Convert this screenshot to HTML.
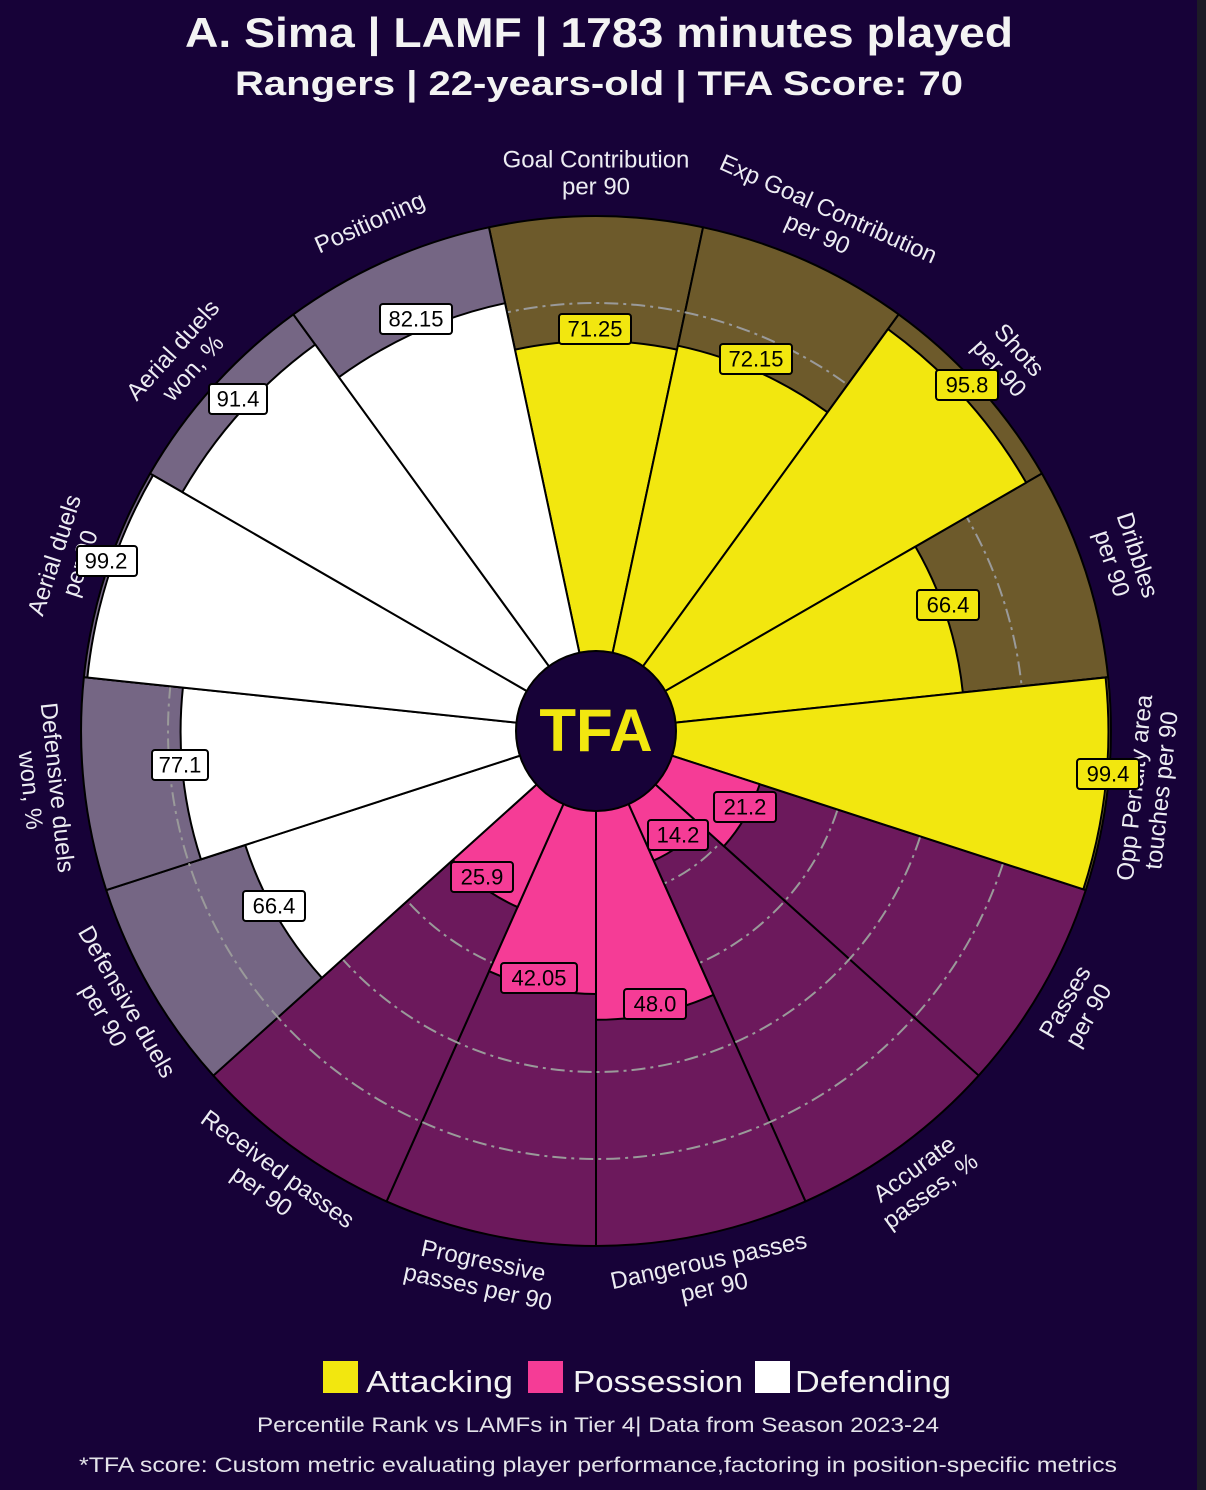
<!DOCTYPE html>
<html><head><meta charset="utf-8"><style>
html,body{margin:0;padding:0;background:#170238;}
svg{display:block;}
text{font-family:"Liberation Sans",sans-serif;}
</style></head><body>
<svg width="1206" height="1490" viewBox="0 0 1206 1490" xmlns="http://www.w3.org/2000/svg">
<rect width="1206" height="1490" fill="#170238"/>
<rect x="1197" y="0" width="9" height="1490" fill="#1d1b26"/>
<text x="599" y="47" text-anchor="middle" font-size="42" font-weight="bold" fill="#f3f3f3" textLength="828" lengthAdjust="spacingAndGlyphs">A. Sima | LAMF | 1783 minutes played</text>
<text x="599" y="95" text-anchor="middle" font-size="34" font-weight="bold" fill="#f3f3f3" textLength="728" lengthAdjust="spacingAndGlyphs">Rangers | 22-years-old | TFA Score: 70</text>

<g transform="translate(596,731)" stroke="#000" stroke-width="2" stroke-linejoin="round">
<g>
<path d="M0,0 L-107.07,-503.7 A515,515 0 0 1 107.07,-503.7 Z" fill="#6d5a2b" transform="rotate(0)"/>
<path d="M0,0 L-107.07,-503.7 A515,515 0 0 1 107.07,-503.7 Z" fill="#6d5a2b" transform="rotate(24)"/>
<path d="M0,0 L-107.07,-503.7 A515,515 0 0 1 107.07,-503.7 Z" fill="#6d5a2b" transform="rotate(48)"/>
<path d="M0,0 L-107.07,-503.7 A515,515 0 0 1 107.07,-503.7 Z" fill="#6d5a2b" transform="rotate(72)"/>
<path d="M0,0 L-107.07,-503.7 A515,515 0 0 1 107.07,-503.7 Z" fill="#6d5a2b" transform="rotate(96)"/>
<path d="M0,0 L-107.07,-503.7 A515,515 0 0 1 107.07,-503.7 Z" fill="#6c195c" transform="rotate(120)"/>
<path d="M0,0 L-107.07,-503.7 A515,515 0 0 1 107.07,-503.7 Z" fill="#6c195c" transform="rotate(144)"/>
<path d="M0,0 L-107.07,-503.7 A515,515 0 0 1 107.07,-503.7 Z" fill="#6c195c" transform="rotate(168)"/>
<path d="M0,0 L-107.07,-503.7 A515,515 0 0 1 107.07,-503.7 Z" fill="#6c195c" transform="rotate(192)"/>
<path d="M0,0 L-107.07,-503.7 A515,515 0 0 1 107.07,-503.7 Z" fill="#6c195c" transform="rotate(216)"/>
<path d="M0,0 L-107.07,-503.7 A515,515 0 0 1 107.07,-503.7 Z" fill="#756684" transform="rotate(240)"/>
<path d="M0,0 L-107.07,-503.7 A515,515 0 0 1 107.07,-503.7 Z" fill="#756684" transform="rotate(264)"/>
<path d="M0,0 L-107.07,-503.7 A515,515 0 0 1 107.07,-503.7 Z" fill="#756684" transform="rotate(288)"/>
<path d="M0,0 L-107.07,-503.7 A515,515 0 0 1 107.07,-503.7 Z" fill="#756684" transform="rotate(312)"/>
<path d="M0,0 L-107.07,-503.7 A515,515 0 0 1 107.07,-503.7 Z" fill="#756684" transform="rotate(336)"/>
</g>
<g fill="none" stroke="#9a9a9a" stroke-width="2" stroke-dasharray="14,5,3,5">
<circle r="167"/><circle r="254"/><circle r="341"/><circle r="428"/>
</g>
<path d="M0,0 L-81.06,-381.4 A389.9,389.9 0 0 1 81.06,-381.4 Z" fill="#f2e70f" transform="rotate(0)"/>
<path d="M0,0 L-81.90,-385.3 A393.9,393.9 0 0 1 81.90,-385.3 Z" fill="#f2e70f" transform="rotate(24)"/>
<path d="M0,0 L-103.27,-485.9 A496.7,496.7 0 0 1 103.27,-485.9 Z" fill="#f2e70f" transform="rotate(48)"/>
<path d="M0,0 L-76.68,-360.8 A368.8,368.8 0 0 1 76.68,-360.8 Z" fill="#f2e70f" transform="rotate(72)"/>
<path d="M0,0 L-106.53,-501.2 A512.4,512.4 0 0 1 106.53,-501.2 Z" fill="#f2e70f" transform="rotate(96)"/>
<path d="M0,0 L-35.80,-168.4 A172.2,172.2 0 0 1 35.80,-168.4 Z" fill="#f53c96" transform="rotate(120)"/>
<path d="M0,0 L-29.48,-138.7 A141.8,141.8 0 0 1 29.48,-138.7 Z" fill="#f53c96" transform="rotate(144)"/>
<path d="M0,0 L-60.04,-282.5 A288.8,288.8 0 0 1 60.04,-282.5 Z" fill="#f53c96" transform="rotate(168)"/>
<path d="M0,0 L-54.66,-257.2 A262.9,262.9 0 0 1 54.66,-257.2 Z" fill="#f53c96" transform="rotate(192)"/>
<path d="M0,0 L-40.06,-188.5 A192.7,192.7 0 0 1 40.06,-188.5 Z" fill="#f53c96" transform="rotate(216)"/>
<path d="M0,0 L-76.68,-360.8 A368.8,368.8 0 0 1 76.68,-360.8 Z" fill="#ffffff" transform="rotate(240)"/>
<path d="M0,0 L-86.37,-406.3 A415.4,415.4 0 0 1 86.37,-406.3 Z" fill="#ffffff" transform="rotate(264)"/>
<path d="M0,0 L-106.35,-500.3 A511.5,511.5 0 0 1 106.35,-500.3 Z" fill="#ffffff" transform="rotate(288)"/>
<path d="M0,0 L-99.30,-467.2 A477.6,477.6 0 0 1 99.30,-467.2 Z" fill="#ffffff" transform="rotate(312)"/>
<path d="M0,0 L-90.94,-427.8 A437.4,437.4 0 0 1 90.94,-427.8 Z" fill="#ffffff" transform="rotate(336)"/>
<circle r="80" fill="#170238" stroke="#000" stroke-width="2"/>
</g>
<text x="596" y="751" text-anchor="middle" font-size="60" font-weight="bold" fill="#f2e70f">TFA</text>

<g font-size="24" fill="#ececf2" text-anchor="middle" dominant-baseline="central">
<g transform="rotate(0 596 731)"><text x="596" y="160">Goal Contribution</text><text x="596" y="187">per 90</text></g>
<g transform="rotate(24 596 731)"><text x="596" y="160">Exp Goal Contribution</text><text x="596" y="187">per 90</text></g>
<g transform="rotate(48 596 731)"><text x="596" y="162">Shots</text><text x="596" y="189">per 90</text></g>
<g transform="rotate(72 596 731)"><text x="596" y="162">Dribbles</text><text x="596" y="189">per 90</text></g>
<g transform="rotate(-84 596 731)"><text x="596" y="1273">Opp Penalty area</text><text x="596" y="1300">touches per 90</text></g>
<g transform="rotate(-60 596 731)"><text x="596" y="1273">Passes</text><text x="596" y="1300">per 90</text></g>
<g transform="rotate(-36 596 731)"><text x="596" y="1273">Accurate</text><text x="596" y="1300">passes, %</text></g>
<g transform="rotate(-12 596 731)"><text x="596" y="1273">Dangerous passes</text><text x="596" y="1300">per 90</text></g>
<g transform="rotate(12 596 731)"><text x="596" y="1273">Progressive</text><text x="596" y="1300">passes per 90</text></g>
<g transform="rotate(36 596 731)"><text x="596" y="1273">Received passes</text><text x="596" y="1300">per 90</text></g>
<g transform="rotate(60 596 731)"><text x="596" y="1273">Defensive duels</text><text x="596" y="1300">per 90</text></g>
<g transform="rotate(84 596 731)"><text x="596" y="1273">Defensive duels</text><text x="596" y="1300">won, %</text></g>
<g transform="rotate(-72 596 731)"><text x="596" y="162">Aerial duels</text><text x="596" y="189">per 90</text></g>
<g transform="rotate(-48 596 731)"><text x="596" y="162">Aerial duels</text><text x="596" y="189">won, %</text></g>
<g transform="rotate(-24 596 731)"><text x="596" y="175">Positioning</text></g>
</g>

<g font-size="22" text-anchor="middle" dominant-baseline="central" fill="#000" stroke-width="2">
<rect x="559" y="314" width="72" height="30" rx="3" fill="#f2e70f" stroke="#000"/><text x="595" y="329">71.25</text>
<rect x="720" y="344" width="72" height="30" rx="3" fill="#f2e70f" stroke="#000"/><text x="756" y="359">72.15</text>
<rect x="936" y="370" width="62" height="30" rx="3" fill="#f2e70f" stroke="#000"/><text x="967" y="385">95.8</text>
<rect x="917" y="590" width="62" height="30" rx="3" fill="#f2e70f" stroke="#000"/><text x="948" y="605">66.4</text>
<rect x="1077" y="759" width="62" height="30" rx="3" fill="#f2e70f" stroke="#000"/><text x="1108" y="774">99.4</text>
<rect x="714" y="792" width="62" height="30" rx="3" fill="#f53c96" stroke="#000"/><text x="745" y="807">21.2</text>
<rect x="648" y="820" width="60" height="30" rx="3" fill="#f53c96" stroke="#000"/><text x="678" y="835">14.2</text>
<rect x="624" y="989" width="62" height="30" rx="3" fill="#f53c96" stroke="#000"/><text x="655" y="1004">48.0</text>
<rect x="501" y="963" width="76" height="30" rx="3" fill="#f53c96" stroke="#000"/><text x="539" y="978">42.05</text>
<rect x="451" y="862" width="62" height="30" rx="3" fill="#f53c96" stroke="#000"/><text x="482" y="877">25.9</text>
<rect x="243" y="891" width="62" height="30" rx="3" fill="#fff" stroke="#000"/><text x="274" y="906">66.4</text>
<rect x="152" y="750" width="56" height="30" rx="3" fill="#fff" stroke="#000"/><text x="180" y="765">77.1</text>
<rect x="77" y="546" width="60" height="30" rx="3" fill="#fff" stroke="#000"/><text x="106" y="561">99.2</text>
<rect x="209" y="384" width="58" height="30" rx="3" fill="#fff" stroke="#000"/><text x="238" y="399">91.4</text>
<rect x="380" y="304" width="72" height="30" rx="3" fill="#fff" stroke="#000"/><text x="416" y="319">82.15</text>
</g>

<rect x="323" y="1361" width="35" height="32" fill="#f2e70f"/>
<text x="366" y="1392" font-size="31" fill="#f3f3f3" textLength="147" lengthAdjust="spacingAndGlyphs">Attacking</text>
<rect x="528" y="1361" width="35" height="32" fill="#f53c96"/>
<text x="573" y="1392" font-size="31" fill="#f3f3f3" textLength="170" lengthAdjust="spacingAndGlyphs">Possession</text>
<rect x="755" y="1361" width="35" height="32" fill="#ffffff"/>
<text x="795" y="1392" font-size="31" fill="#f3f3f3" textLength="156" lengthAdjust="spacingAndGlyphs">Defending</text>
<text x="598" y="1432" text-anchor="middle" font-size="21" fill="#e4e4ea" textLength="682" lengthAdjust="spacingAndGlyphs">Percentile Rank vs LAMFs in Tier 4| Data from Season 2023-24</text>
<text x="598" y="1472" text-anchor="middle" font-size="21" fill="#e4e4ea" textLength="1038" lengthAdjust="spacingAndGlyphs">*TFA score: Custom metric evaluating player performance,factoring in position-specific metrics</text>
</svg>
</body></html>
